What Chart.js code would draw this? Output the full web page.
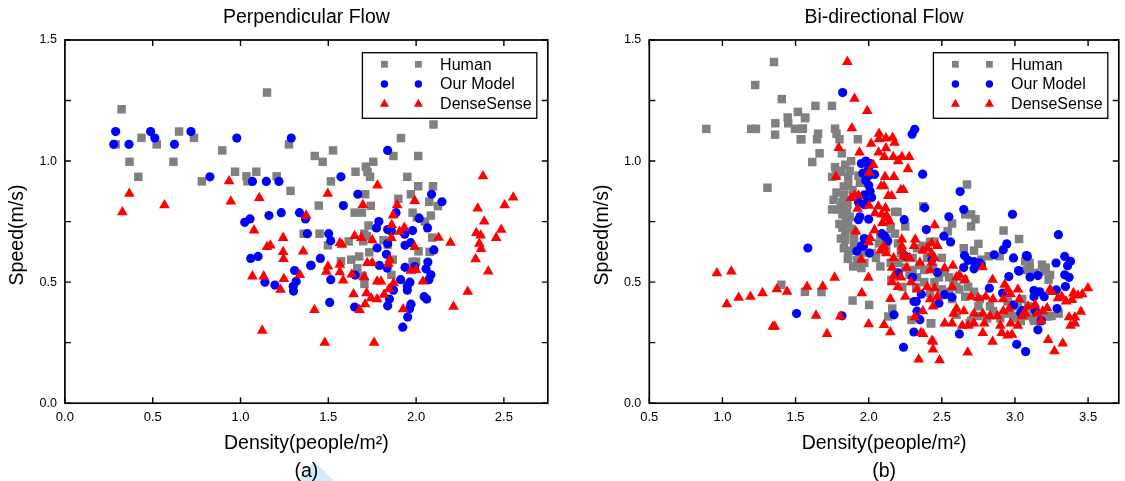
<!DOCTYPE html>
<html>
<head>
<meta charset="utf-8">
<script src="https://cdn.jsdelivr.net/npm/chart.js@4.4.0/dist/chart.umd.min.js"></script>
<style>
  html, body { margin: 0; padding: 0; background: #ffffff; }
  #wrap { position: relative; width: 1125px; height: 481px; overflow: hidden; background: #fff; }
  #cL { position: absolute; left: 0; top: 0; }
  #cR { position: absolute; left: 560px; top: 0; }
  #mark { position: absolute; left: 296px; top: 462px; width: 38px; height: 19px; background: #d2ebf8;
          clip-path: polygon(50% 0, 100% 100%, 0 100%); }
</style>
</head>
<body>
<div id="wrap">
  <div id="mark"></div>
  <canvas id="cL" width="560" height="481"></canvas>
  <canvas id="cR" width="565" height="481"></canvas>
</div>
<script>
// ---------------- tick labels ----------------
const leftXTicks = [0, 0.5, 1.0, 1.5, 2.0, 2.5];
const rightXTicks = [0.5, 1.0, 1.5, 2.0, 2.5, 3.0, 3.5];
const yTicks = [0, 0.5, 1.0, 1.5];
const yMinorTicks = [0.25, 0.75, 1.25];
const seriesNames = ['Human', 'Our Model', 'DenseSense'];

// ---------------- (a) Perpendicular Flow ----------------
const leftHuman = [
[0.323,1.214],[0.289,1.069],[0.436,1.096],[0.368,0.997],[0.418,0.935],[0.523,1.069],[0.650,1.122],[0.735,1.096],
[0.618,0.997],[0.896,1.044],[0.780,0.916],[0.969,0.956],[1.034,0.937],[1.040,0.916],[1.090,0.956],[1.151,1.283],
[1.206,0.937],[1.276,1.069],[1.285,0.877],[1.360,0.700],[2.099,1.151],[1.914,1.095],[1.527,1.044],[1.423,1.021],
[1.468,0.997],[1.871,1.021],[2.012,1.021],[1.756,0.997],[1.714,0.977],[1.655,0.956],[1.723,0.955],[1.738,0.935],
[1.515,0.916],[1.950,0.935],[2.012,0.896],[2.096,0.896],[1.710,0.863],[1.970,0.863],[1.899,0.844],[2.075,0.832],
[2.124,0.814],[1.446,0.816],[1.742,0.815],[1.650,0.787],[1.691,0.787],[1.980,0.787],[2.005,0.768],[2.050,0.750],
[2.084,0.775],[1.729,0.734],[1.705,0.700],[1.720,0.690],[1.450,0.700],[1.616,0.668],[1.698,0.669],[1.498,0.652],
[1.814,0.673],[1.838,0.655],[1.733,0.623],[1.676,0.606],[1.631,0.593],[1.572,0.586],[1.867,0.593],[2.014,0.627],
[2.077,0.625],[1.980,0.584],[2.000,0.584],[2.092,0.684],[1.665,0.557],[1.695,0.526],[1.859,0.530],[1.706,0.493]
];
const leftModel = [
[0.289,1.122],[0.278,1.069],[0.365,1.069],[0.488,1.122],[0.512,1.095],[0.624,1.069],[0.718,1.122],[0.979,1.095],
[1.289,1.095],[0.826,0.935],[1.068,0.916],[1.147,0.916],[1.219,0.916],[1.024,0.747],[1.054,0.761],[1.162,0.775],
[1.232,0.787],[1.336,0.787],[1.370,0.761],[1.381,0.700],[1.400,0.569],[1.058,0.598],[1.100,0.606],[1.308,0.548],
[1.317,0.503],[1.300,0.483],[1.302,0.463],[1.139,0.500],[1.196,0.488],[1.838,1.044],[1.572,0.935],[1.668,0.863],
[2.088,0.863],[2.147,0.832],[1.586,0.816],[1.886,0.787],[2.018,0.763],[1.788,0.750],[1.774,0.724],[2.065,0.724],
[1.980,0.713],[1.935,0.698],[1.502,0.700],[1.514,0.671],[1.838,0.717],[1.859,0.711],[1.969,0.663],[1.937,0.652],
[1.838,0.659],[1.778,0.641],[2.101,0.633],[1.831,0.615],[1.791,0.569],[1.455,0.598],[1.402,0.569],[2.067,0.583],
[2.056,0.555],[1.835,0.558],[1.937,0.561],[1.992,0.564],[2.084,0.530],[2.073,0.510],[1.653,0.529],[1.514,0.510],
[1.912,0.510],[1.965,0.500],[1.950,0.485],[1.871,0.467],[1.950,0.467],[1.848,0.430],[1.838,0.402],[1.508,0.416],
[1.650,0.397],[1.971,0.409],[1.963,0.390],[1.952,0.356],[2.046,0.440],[2.060,0.430],[1.924,0.314]
];
const leftDense = [
[0.367,0.865],[0.327,0.789],[0.567,0.818],[0.935,0.917],[0.945,0.833],[1.107,0.848],[1.077,0.714],[1.151,0.645],
[1.170,0.652],[1.243,0.683],[1.243,0.625],[1.245,0.596],[1.357,0.627],[1.374,0.775],[1.068,0.524],[1.132,0.524],
[1.247,0.513],[1.228,0.469],[1.338,0.530],[1.124,0.300],[2.381,0.938],[1.780,0.899],[1.497,0.865],[1.697,0.819],
[1.992,0.836],[1.892,0.818],[2.553,0.850],[2.504,0.818],[2.351,0.804],[1.869,0.776],[2.388,0.751],[1.861,0.736],
[1.933,0.725],[1.906,0.708],[2.485,0.717],[2.343,0.703],[2.368,0.693],[2.456,0.683],[2.128,0.684],[2.196,0.663],
[1.859,0.683],[1.650,0.691],[1.688,0.683],[1.750,0.673],[1.566,0.662],[1.578,0.655],[1.992,0.645],[2.360,0.659],
[2.370,0.637],[2.339,0.595],[2.411,0.544],[1.850,0.593],[1.842,0.575],[1.722,0.579],[1.750,0.579],[1.498,0.565],
[1.566,0.572],[1.489,0.543],[1.566,0.541],[1.634,0.532],[1.705,0.521],[1.585,0.507],[1.971,0.547],[2.000,0.551],
[1.778,0.503],[1.800,0.503],[1.872,0.496],[2.039,0.503],[1.846,0.472],[1.644,0.450],[1.718,0.455],[1.818,0.448],
[1.744,0.434],[1.778,0.430],[1.710,0.409],[1.678,0.385],[1.926,0.388],[2.294,0.461],[2.213,0.399],[1.421,0.385],
[1.480,0.250],[1.761,0.250]
];

// ---------------- (b) Bi-directional Flow ----------------
const rightHuman = [
[1.353,1.409],[1.224,1.314],[1.406,1.256],[0.890,1.133],[1.197,1.133],[1.229,1.133],[1.362,1.156],[1.360,1.109],
[1.446,1.180],[1.450,1.156],[1.516,1.203],[1.566,1.180],[1.496,1.133],[1.548,1.133],[1.535,1.090],[1.308,0.890],
[1.403,0.489],[1.564,0.460],[1.677,0.459],[1.636,1.228],[1.749,1.228],[1.564,1.177],[1.550,1.134],[1.540,1.090],
[1.654,1.113],[1.647,1.090],[1.770,1.134],[1.780,1.113],[1.800,1.090],[1.926,1.090],[1.664,1.032],[1.614,0.996],
[1.817,1.032],[1.770,0.975],[1.800,0.960],[1.840,0.985],[1.870,0.960],[1.880,1.000],[1.750,0.935],[1.780,0.945],
[1.810,0.955],[1.860,0.935],[1.930,0.940],[1.940,0.910],[1.830,0.895],[1.860,0.900],[1.890,0.880],[1.830,0.860],
[1.820,0.830],[1.855,0.820],[1.810,0.810],[1.850,0.800],[1.750,0.800],[1.790,0.800],[1.820,0.780],[1.845,0.755],
[1.860,0.740],[1.820,0.725],[1.840,0.700],[1.840,0.675],[1.810,0.680],[1.900,0.660],[2.197,0.790],[2.180,0.790],
[2.250,0.730],[2.180,0.700],[2.150,0.720],[2.120,0.680],[2.100,0.660],[2.080,0.695],[2.200,0.660],[2.330,0.640],
[2.370,0.650],[2.373,0.813],[1.830,0.640],[1.860,0.610],[1.920,0.590],[1.970,0.580],[2.020,0.620],[2.070,0.660],
[2.120,0.640],[1.857,0.596],[1.894,0.565],[1.950,0.558],[1.890,0.424],[2.003,0.406],[2.161,0.391],[2.134,0.358],
[2.292,0.344],[2.424,0.330],[2.200,0.580],[2.250,0.560],[2.300,0.600],[2.350,0.570],[2.280,0.530],[2.330,0.520],
[2.380,0.550],[2.220,0.620],[2.400,0.600],[2.672,0.903],[2.660,0.780],[2.700,0.780],[2.700,0.730],[2.730,0.760],
[2.922,0.713],[3.028,0.678],[2.750,0.658],[2.650,0.640],[2.720,0.630],[2.570,0.742],[2.540,0.710],[2.420,0.667],
[2.450,0.667],[2.520,0.540],[2.580,0.500],[2.650,0.510],[2.550,0.460],[2.600,0.480],[2.660,0.440],[2.720,0.460],
[2.480,0.520],[2.440,0.560],[2.500,0.600],[3.080,0.550],[3.050,0.430],[2.990,0.360],[2.950,0.370],[3.030,0.360],
[2.428,0.330],[2.750,0.360],[2.810,0.350],[2.700,0.340],[2.770,0.593],[2.820,0.607],[2.895,0.607],[3.070,0.586],
[3.185,0.572],[3.200,0.545],[3.140,0.538],[3.100,0.580],[3.100,0.560],[3.210,0.560],[3.240,0.530],[3.230,0.510],
[3.090,0.400],[3.130,0.390],[3.070,0.370],[3.020,0.400],[3.040,0.340],[3.130,0.340],[3.125,0.352],[3.220,0.358],
[2.600,0.365],[2.690,0.330],[2.830,0.400],[2.570,0.430],[2.760,0.430],[2.155,0.510],[2.230,0.480],[2.080,0.565],
[2.325,0.480],[2.420,0.455],[2.050,0.600],[2.150,0.580],[2.250,0.600],[2.300,0.550],[2.380,0.500],[2.450,0.500],
[2.500,0.470],[2.550,0.520],[2.620,0.470],[2.680,0.480],[2.750,0.400],[2.850,0.380],[2.900,0.350],[2.950,0.420],
[3.000,0.350],[3.100,0.360],[3.180,0.370],[3.250,0.360],[3.300,0.370],[1.780,0.870],[1.760,0.840],[1.880,0.720],
[1.870,0.770],[1.800,0.740],[1.900,0.690],[1.950,0.620],[1.880,0.630]
];
const rightModel = [
[1.822,1.283],[2.315,1.131],[2.297,1.111],[2.369,0.946],[1.950,0.990],[1.980,1.000],[2.010,0.990],[2.000,0.970],
[1.960,0.950],[2.000,0.940],[2.040,0.945],[1.980,0.920],[2.000,0.900],[2.010,0.875],[1.970,0.860],[1.990,0.850],
[2.020,0.850],[1.930,0.830],[1.970,0.820],[2.383,0.807],[1.930,0.758],[1.940,0.770],[2.243,0.758],[2.000,0.760],
[2.090,0.700],[2.110,0.690],[2.130,0.670],[2.394,0.717],[1.950,0.650],[1.970,0.680],[1.584,0.641],[1.507,0.370],
[1.817,0.361],[2.173,0.365],[2.309,0.294],[2.238,0.231],[1.919,0.628],[1.964,0.648],[2.005,0.620],[2.202,0.538],
[2.247,0.609],[2.300,0.520],[2.310,0.420],[2.330,0.380],[2.360,0.450],[2.625,0.874],[2.650,0.800],[2.983,0.780],
[2.548,0.770],[2.514,0.690],[2.560,0.666],[2.944,0.658],[2.920,0.634],[2.858,0.613],[2.990,0.600],[3.078,0.610],
[2.655,0.610],[2.680,0.590],[2.720,0.585],[2.757,0.580],[2.650,0.560],[2.720,0.555],[2.770,0.570],[3.025,0.548],
[2.958,0.523],[2.825,0.475],[2.915,0.455],[2.519,0.448],[2.569,0.438],[2.480,0.413],[2.990,0.406],[3.040,0.372],
[2.620,0.286],[3.012,0.243],[3.073,0.213],[2.433,0.593],[2.470,0.540],[3.297,0.696],[3.085,0.606],[3.340,0.606],
[3.380,0.586],[3.360,0.568],[3.281,0.579],[3.028,0.545],[3.103,0.521],[3.157,0.527],[3.340,0.530],[3.370,0.520],
[3.345,0.482],[3.283,0.468],[3.130,0.465],[3.170,0.460],[3.200,0.440],[3.130,0.440],[3.288,0.391],[3.140,0.382],
[3.050,0.382],[3.180,0.340],[3.157,0.303],[2.325,0.420],[2.350,0.345]
];
const rightDense = [
[0.962,0.537],[1.061,0.544],[1.030,0.409],[1.111,0.436],[1.192,0.440],[1.274,0.455],[1.372,0.471],[1.442,0.461],
[1.345,0.316],[1.358,0.316],[1.579,0.481],[1.686,0.482],[1.767,0.519],[1.640,0.362],[1.715,0.286],[1.806,0.358],
[1.854,1.410],[1.903,1.258],[1.990,1.207],[1.885,1.136],[2.071,1.113],[2.118,1.094],[2.163,1.097],[2.177,1.076],
[2.070,1.090],[2.017,1.072],[1.795,1.054],[2.118,1.053],[2.068,1.036],[1.937,1.036],[2.107,1.017],[2.168,1.017],
[2.227,1.017],[2.277,1.017],[2.202,1.000],[2.032,0.984],[2.268,0.967],[2.112,0.935],[2.173,0.935],[1.776,0.935],
[2.003,0.952],[2.085,0.896],[2.105,0.896],[2.220,0.881],[2.238,0.881],[1.903,0.858],[1.930,0.858],[2.134,0.856],
[2.157,0.856],[1.878,0.848],[2.003,0.816],[2.066,0.813],[2.115,0.806],[1.924,0.803],[2.043,0.785],[2.088,0.780],
[2.122,0.775],[2.144,0.750],[2.130,0.765],[2.094,0.745],[2.040,0.715],[1.912,0.710],[2.010,0.683],[2.227,0.676],
[2.318,0.676],[2.227,0.648],[2.105,0.648],[1.949,0.593],[1.998,0.519],[1.953,0.455],[2.000,0.326],[2.105,0.323],
[2.148,0.431],[2.148,0.293],[2.315,0.355],[2.372,0.286],[2.433,0.258],[2.440,0.222],[2.342,0.181],[2.000,0.665],
[2.080,0.630],[2.170,0.600],[2.120,0.620],[2.160,0.560],[2.220,0.520],[2.160,0.500],[2.290,0.500],[2.330,0.470],
[2.400,0.480],[2.420,0.430],[2.440,0.400],[2.470,0.440],[2.260,0.560],[2.230,0.630],[2.310,0.650],[2.370,0.630],
[2.430,0.620],[2.280,0.600],[2.350,0.580],[2.420,0.550],[2.451,0.735],[2.430,0.660],[2.470,0.650],[2.450,0.600],
[2.430,0.580],[2.576,0.568],[2.519,0.558],[2.779,0.562],[2.847,0.510],[2.600,0.520],[2.620,0.530],[2.660,0.510],
[2.930,0.490],[2.950,0.470],[2.970,0.450],[2.570,0.480],[2.450,0.475],[2.700,0.440],[2.750,0.435],[2.800,0.440],
[2.850,0.430],[2.920,0.430],[2.960,0.390],[2.920,0.380],[2.600,0.390],[2.650,0.380],[2.580,0.370],[2.720,0.370],
[2.780,0.370],[2.830,0.360],[2.880,0.360],[2.520,0.330],[2.570,0.330],[2.640,0.320],[2.680,0.320],[2.720,0.330],
[2.790,0.330],[2.900,0.320],[2.970,0.330],[3.020,0.320],[3.070,0.370],[2.780,0.290],[2.910,0.290],[2.950,0.280],
[2.847,0.254],[2.440,0.254],[2.677,0.210],[2.485,0.178],[3.499,0.475],[3.400,0.455],[3.430,0.445],[3.460,0.450],
[3.451,0.378],[3.370,0.355],[3.410,0.355],[3.380,0.320],[3.410,0.330],[3.240,0.470],[3.250,0.460],[3.320,0.440],
[3.350,0.420],[3.090,0.400],[3.190,0.380],[3.150,0.370],[3.050,0.360],[3.180,0.340],[3.020,0.470],[3.030,0.430],
[3.227,0.261],[3.327,0.247],[3.270,0.215],[3.137,0.407],[3.220,0.393],[3.294,0.434],[3.390,0.427],[3.064,0.372],
[2.980,0.283],[2.357,0.290],[2.370,0.380],[2.250,0.440],[2.200,0.480],[2.170,0.524],[2.240,0.607],[2.400,0.640]
];

// ---------------- styling ----------------
const COLORS = ['#808080', '#0000ff', '#ff0000'];
const STYLES = ['rect', 'circle', 'triangle'];
const RADII = [6, 4.6, 6.2];
const FONT = '"Liberation Sans", Arial, Helvetica, sans-serif';

function toXY(arr) { return arr.map(p => ({ x: p[0], y: p[1] })); }

function drawMarker(ctx, style, x, y, r, color) {
  ctx.fillStyle = color;
  ctx.beginPath();
  if (style === 'rect') {
    const s = Math.SQRT1_2 * r;
    ctx.rect(x - s, y - s, 2 * s, 2 * s);
  } else if (style === 'circle') {
    ctx.arc(x, y, r, 0, Math.PI * 2);
  } else {
    ctx.moveTo(x, y - r);
    ctx.lineTo(x + r * Math.sin(Math.PI * 2 / 3), y - r * Math.cos(Math.PI * 2 / 3));
    ctx.lineTo(x + r * Math.sin(Math.PI * 4 / 3), y - r * Math.cos(Math.PI * 4 / 3));
    ctx.closePath();
  }
  ctx.fill();
}

function makeChart(id, cfg) {
  const canvas = document.getElementById(id);
  const W = canvas.width, H = canvas.height;
  const framePlugin = {
    id: 'frame',
    afterDraw(chart) {
      const ctx = chart.ctx;
      const a = chart.chartArea;
      const xs = chart.scales.x, ys = chart.scales.y;
      ctx.save();
      ctx.strokeStyle = '#000';
      ctx.lineWidth = 1.7;
      ctx.strokeRect(a.left, a.top, a.right - a.left, a.bottom - a.top);
      const L = 6;
      ctx.lineWidth = 1.4;
      ctx.beginPath();
      cfg.xTicks.forEach(v => {
        const px = xs.getPixelForValue(v);
        ctx.moveTo(px, a.bottom); ctx.lineTo(px, a.bottom - L);
        ctx.moveTo(px, a.top); ctx.lineTo(px, a.top + L);
      });
      yTicks.concat(yMinorTicks).forEach(v => {
        const py = ys.getPixelForValue(v);
        ctx.moveTo(a.left, py); ctx.lineTo(a.left + L, py);
        ctx.moveTo(a.right, py); ctx.lineTo(a.right - L, py);
      });
      ctx.stroke();
      const cx = (a.left + a.right) / 2;
      ctx.fillStyle = '#000';
      ctx.font = '19.5px ' + FONT;
      ctx.textAlign = 'center';
      ctx.textBaseline = 'alphabetic';
      ctx.fillText(cfg.title, cx, 22.7);
      ctx.fillText(cfg.xTitle, cx, 449);
      ctx.fillText(cfg.sub, cx, 476.5);
      ctx.save();
      ctx.translate(a.left - 41.5, 235);
      ctx.rotate(-Math.PI / 2);
      ctx.fillText(cfg.yTitle, 0, 0);
      ctx.restore();
      const bw = 174.4, bh = 65.6;
      const bx = a.right - 11 - bw, by = a.top + 12.7;
      ctx.fillStyle = '#fff';
      ctx.fillRect(bx, by, bw, bh);
      ctx.strokeStyle = '#000';
      ctx.lineWidth = 1.3;
      ctx.strokeRect(bx, by, bw, bh);
      const rows = [11.6, 31.3, 51.3];
      const lr = [4.8, 3.7, 5.3];
      ctx.font = '16px ' + FONT;
      ctx.textAlign = 'left';
      ctx.textBaseline = 'middle';
      seriesNames.forEach((name, i) => {
        const ry = by + rows[i];
        drawMarker(ctx, STYLES[i], bx + 22, ry, lr[i], COLORS[i]);
        drawMarker(ctx, STYLES[i], bx + 56, ry, lr[i], COLORS[i]);
        ctx.fillStyle = '#000';
        ctx.fillText(name, bx + 77.7, ry + 1);
      });
      ctx.restore();
    }
  };

  const sets = [cfg.human, cfg.model, cfg.dense].map((d, i) => ({
    label: seriesNames[i],
    data: toXY(d),
    pointStyle: STYLES[i],
    pointRadius: RADII[i],
    pointHoverRadius: RADII[i],
    pointBackgroundColor: COLORS[i],
    pointBorderWidth: 0,
    borderWidth: 0,
    backgroundColor: COLORS[i],
    borderColor: COLORS[i],
    order: 3 - i,
    clip: false
  }));

  return new Chart(canvas, {
    type: 'scatter',
    data: { datasets: sets },
    options: {
      responsive: false,
      animation: false,
      events: [],
      layout: { padding: { left: 0, right: W - cfg.right, top: 40, bottom: 0 } },
      plugins: { legend: { display: false }, tooltip: { enabled: false }, title: { display: false } },
      scales: {
        x: {
          type: 'linear', min: cfg.xMin, max: cfg.xMax,
          grid: { display: false, drawTicks: false },
          border: { display: false },
          afterBuildTicks: (s) => { s.ticks = cfg.xTicks.map(v => ({ value: v })); },
          afterFit: (s) => { s.height = H - 403.2; },
          ticks: { autoSkip: false, maxRotation: 0, padding: 6, color: '#000',
                   font: { family: FONT, size: 13 },
                   callback: (v) => Number(v).toFixed(1) }
        },
        y: {
          type: 'linear', min: 0, max: 1.5,
          grid: { display: false, drawTicks: false },
          border: { display: false },
          afterBuildTicks: (s) => { s.ticks = yTicks.map(v => ({ value: v })); },
          afterFit: (s) => { s.width = cfg.left; },
          ticks: { autoSkip: false, padding: 8, color: '#000',
                   font: { family: FONT, size: 12.5 },
                   callback: (v) => Number(v).toFixed(1) }
        }
      }
    },
    plugins: [framePlugin]
  });
}

makeChart('cL', {
  human: leftHuman, model: leftModel, dense: leftDense,
  xMin: 0, xMax: 2.75, xTicks: leftXTicks, left: 64.9, right: 547.8,
  title: 'Perpendicular Flow', xTitle: 'Density(people/m\u00B2)', yTitle: 'Speed(m/s)', sub: '(a)'
});
makeChart('cR', {
  human: rightHuman, model: rightModel, dense: rightDense,
  xMin: 0.5, xMax: 3.71, xTicks: rightXTicks, left: 89.3, right: 562,
  title: 'Bi-directional Flow', xTitle: 'Density(people/m\u00B2)', yTitle: 'Speed(m/s)', sub: '(b)'
});
</script>
</body>
</html>
